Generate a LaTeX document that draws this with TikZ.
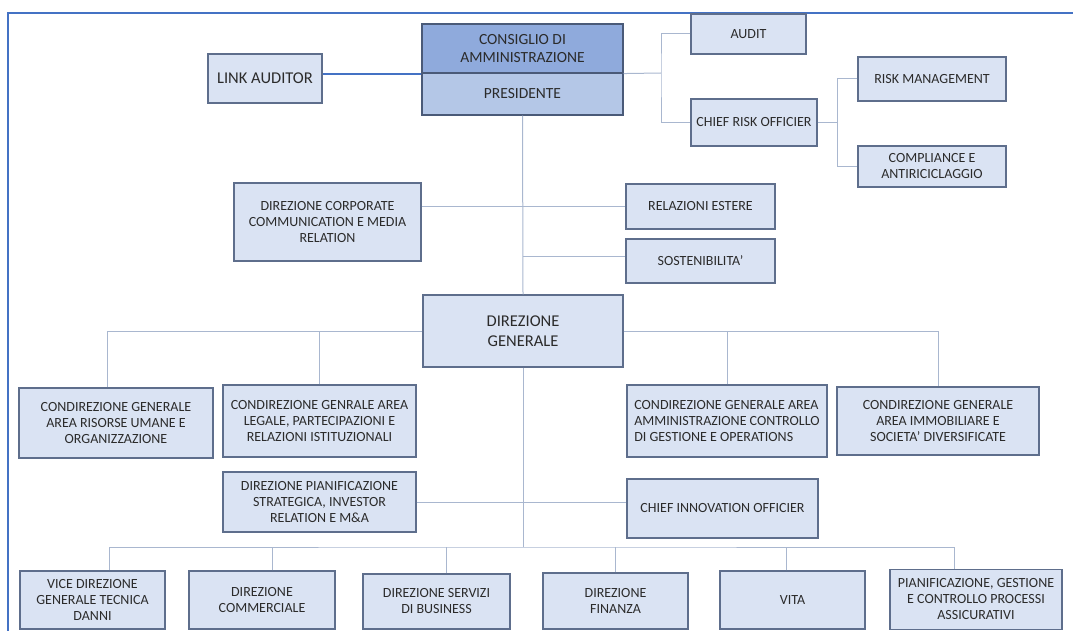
\documentclass[tikz,border=0pt]{standalone}
\usepackage{fontspec}
\setmainfont{Carlito}
\usepackage{xcolor}
\definecolor{boxfill}{HTML}{DAE3F3}
\definecolor{boxline}{HTML}{5E6E8C}
\definecolor{connline}{HTML}{A9B7CF}
\definecolor{cdafill}{HTML}{8FAADC}
\definecolor{presfill}{HTML}{B4C7E7}
\definecolor{cdaline}{HTML}{4A5A78}
\definecolor{framecol}{HTML}{4472C4}
\definecolor{textcol}{HTML}{2B2B2B}
\tikzset{
  orgbox/.style={draw=boxline,line width=1.1pt,fill=boxfill,text=textcol,
    align=center,inner xsep=2pt,inner ysep=0pt,
    font=\fontsize{14}{16}\selectfont},
  bigbox/.style={orgbox,font=\fontsize{16.5}{20}\selectfont},
  conn/.style={draw=connline,line width=1pt},
  linkline/.style={color=framecol,line width=2pt},
  framebox/.style={color=framecol,line width=1.6pt}
}
\begin{document}
\begin{tikzpicture}[x=1pt,y=-1pt]
\useasboundingbox (0,0) rectangle (1073,631);
\draw[framebox] (8,631) -- (8,13) -- (1073,13);

% vertice
\node[bigbox,fill=cdafill,draw=cdaline,minimum width=201,minimum height=49,
      font=\fontsize{15.5}{18}\selectfont] (cda) at (522.5,48.5) {CONSIGLIO DI\\AMMINISTRAZIONE};
\node[bigbox,fill=presfill,draw=cdaline,minimum width=201,minimum height=42,
      font=\fontsize{15.5}{18}\selectfont] (pres) at (522.5,94) {PRESIDENTE};
\node[bigbox,minimum width=114,minimum height=49] (link) at (265,78.5) {LINK AUDITOR};
\node[orgbox,minimum width=115,minimum height=40] (audit) at (748.5,34) {AUDIT};
\node[orgbox,minimum width=126,minimum height=47] (cro) at (754,122.5) {CHIEF RISK OFFICIER};
\node[orgbox,minimum width=148,minimum height=44] (risk) at (932,79) {RISK MANAGEMENT};
\node[orgbox,minimum width=148,minimum height=41] (comp) at (932,166.5) {COMPLIANCE E\\ANTIRICICLAGGIO};

% staff
\node[orgbox,minimum width=187,minimum height=78] (dcc) at (327.5,222) {DIREZIONE CORPORATE\\COMMUNICATION E MEDIA\\RELATION};
\node[orgbox,minimum width=149,minimum height=45] (rel) at (700.5,206.5) {RELAZIONI ESTERE};
\node[orgbox,minimum width=149,minimum height=44] (sost) at (700.5,261) {SOSTENIBILITA’};
\node[bigbox,minimum width=200,minimum height=72] (dg) at (523,331) {DIREZIONE\\GENERALE};

% condirezioni
\node[orgbox,minimum width=194,minimum height=70] (cru) at (116,423) {CONDIREZIONE GENERALE\\AREA RISORSE UMANE E\\ORGANIZZAZIONE};
\node[orgbox,minimum width=193,minimum height=72] (clp) at (319.5,421) {CONDIREZIONE GENRALE AREA\\LEGALE, PARTECIPAZIONI E\\RELAZIONI ISTITUZIONALI};
\node[orgbox,align=left,minimum width=200,minimum height=72] (cac) at (727,421) {CONDIREZIONE GENERALE AREA\\AMMINISTRAZIONE CONTROLLO\\DI GESTIONE E OPERATIONS};
\node[orgbox,minimum width=202,minimum height=68] (cim) at (938,421) {CONDIREZIONE GENERALE\\AREA IMMOBILIARE E\\SOCIETA’ DIVERSIFICATE};
\node[orgbox,minimum width=193,minimum height=60] (dps) at (319.5,502) {DIREZIONE PIANIFICAZIONE\\STRATEGICA, INVESTOR\\RELATION E M\&A};
\node[orgbox,minimum width=191,minimum height=59] (cio) at (722.5,508.5) {CHIEF INNOVATION OFFICIER};

% direzioni
\node[orgbox,minimum width=145,minimum height=58] (vice) at (92.5,600) {VICE DIREZIONE\\GENERALE TECNICA\\DANNI};
\node[orgbox,minimum width=146,minimum height=58] (comm) at (262,600) {DIREZIONE\\COMMERCIALE};
\node[orgbox,minimum width=147,minimum height=55] (serv) at (436.5,601.5) {DIREZIONE SERVIZI\\DI BUSINESS};
\node[orgbox,minimum width=145,minimum height=56] (fin) at (615.5,601) {DIREZIONE\\FINANZA};
\node[orgbox,minimum width=145,minimum height=58] (vita) at (792.5,600) {VITA};
\node[orgbox,minimum width=172,minimum height=60] (pgca) at (976,599.5) {PIANIFICAZIONE, GESTIONE\\E CONTROLLO PROCESSI\\ASSICURATIVI};

% collegamenti
\coordinate (rbus) at (661,73);
\coordinate (bar3) at (523,547);
\coordinate (sostin) at ([yshift=5pt]sost.west);
\draw[linkline] (link.east |- cda.south west) -- (cda.south west);
\draw[conn] (cda.south east) -- (rbus);
\draw[conn] (audit.west) -| (rbus) |- (cro.west);
\draw[conn] (cro.east) -- ++(20,0) coordinate (cbus);
\draw[conn] (risk.west) -| (cbus) |- (comp.west);
\draw[conn] (pres.south) -- (dg.north);
\draw[conn] (dcc.east |- rel.west) -- (rel.west);
\draw[conn] (sostin -| pres.south) -- (sostin);
\draw[conn] ([xshift=-9pt]cru.north) |- (dg.west);
\draw[conn] (clp.north) -- (clp.north |- dg.west);
\draw[conn] (dg.east) -| (cim.north);
\draw[conn] (cac.north) -- (cac.north |- dg.east);
\draw[conn] (dg.south) -- (bar3);
\draw[conn] (dps.east) -- (dps.east -| cio.west);
\draw[conn] ([xshift=16.5pt]vice.north) |- (bar3) -| ([xshift=-22pt]pgca.north);
\draw[conn] ([xshift=10pt]comm.north) -- ([xshift=10pt]comm.north |- bar3);
\draw[conn] ([xshift=9.5pt]serv.north) -- ([xshift=9.5pt]serv.north |- bar3);
\draw[conn] (fin.north) -- (fin.north |- bar3);
\draw[conn] ([xshift=-6.5pt]vita.north) -- ([xshift=-6.5pt]vita.north |- bar3);
\end{tikzpicture}
\end{document}
